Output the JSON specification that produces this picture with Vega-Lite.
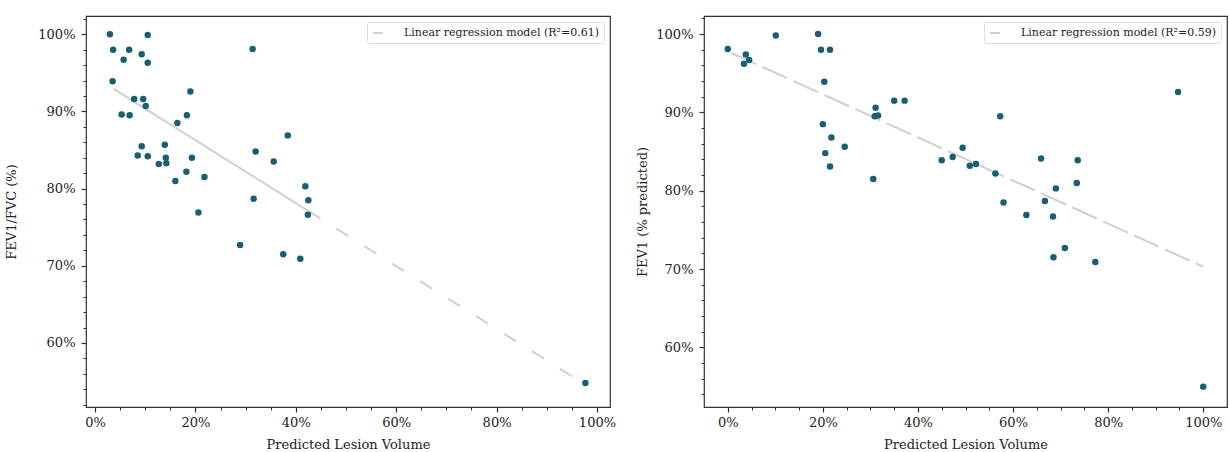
{
  "$schema": "https://vega.github.io/schema/vega-lite/v6.json",
  "padding": {"left": 5, "top": 15, "right": 0, "bottom": 0},
  "background": "white",
  "config": {
    "font": "DejaVu Serif",
    "view": {"stroke": "#333333", "strokeWidth": 1.2},
    "axis": {
      "labelFont": "DejaVu Serif", "labelFontSize": 13, "labelColor": "#222222",
      "titleFont": "DejaVu Serif", "titleFontSize": 13, "titleFontWeight": "normal", "titleColor": "#222222",
      "domain": false, "grid": false, "tickColor": "#333333", "tickWidth": 1.2
    },
    "legend": {
      "orient": "top-right", "offset": 6, "strokeColor": "#dddddd", "fillColor": "white",
      "padding": 5, "cornerRadius": 2, "labelFont": "DejaVu Serif", "labelFontSize": 11,
      "labelColor": "#222222", "labelLimit": 400, "symbolType": "stroke", "symbolSize": 100,
      "symbolStrokeWidth": 2, "labelOffset": 20, "title": null
    }
  },
  "datasets": {
    "fvc": [
      {"lesion": 2.96, "ratio": 100.0}, {"lesion": 10.5, "ratio": 99.9}, {"lesion": 3.6, "ratio": 98.0},
      {"lesion": 6.8, "ratio": 98.0}, {"lesion": 9.3, "ratio": 97.4}, {"lesion": 10.5, "ratio": 96.3},
      {"lesion": 5.7, "ratio": 96.7}, {"lesion": 31.4, "ratio": 98.1}, {"lesion": 3.5, "ratio": 93.9},
      {"lesion": 19.0, "ratio": 92.6}, {"lesion": 7.8, "ratio": 91.6}, {"lesion": 9.6, "ratio": 91.6},
      {"lesion": 10.1, "ratio": 90.7}, {"lesion": 5.3, "ratio": 89.6}, {"lesion": 6.9, "ratio": 89.5},
      {"lesion": 18.3, "ratio": 89.5}, {"lesion": 16.4, "ratio": 88.5}, {"lesion": 38.4, "ratio": 86.9},
      {"lesion": 9.3, "ratio": 85.5}, {"lesion": 13.9, "ratio": 85.7}, {"lesion": 32.0, "ratio": 84.8},
      {"lesion": 8.5, "ratio": 84.3}, {"lesion": 10.5, "ratio": 84.2}, {"lesion": 14.1, "ratio": 84.0},
      {"lesion": 19.3, "ratio": 84.0}, {"lesion": 35.6, "ratio": 83.5}, {"lesion": 12.7, "ratio": 83.2},
      {"lesion": 14.2, "ratio": 83.3}, {"lesion": 18.2, "ratio": 82.2}, {"lesion": 21.8, "ratio": 81.5},
      {"lesion": 16.0, "ratio": 81.0}, {"lesion": 41.9, "ratio": 80.3}, {"lesion": 31.6, "ratio": 78.7},
      {"lesion": 42.5, "ratio": 78.5}, {"lesion": 20.6, "ratio": 76.9}, {"lesion": 42.4, "ratio": 76.6},
      {"lesion": 28.9, "ratio": 72.7}, {"lesion": 37.5, "ratio": 71.5}, {"lesion": 40.9, "ratio": 70.9},
      {"lesion": 97.7, "ratio": 54.8}
    ],
    "fev1": [
      {"lesion": 0.0, "fev1": 98.1}, {"lesion": 10.1, "fev1": 99.8}, {"lesion": 19.0, "fev1": 100.0},
      {"lesion": 19.6, "fev1": 98.0}, {"lesion": 21.5, "fev1": 98.0}, {"lesion": 3.8, "fev1": 97.4},
      {"lesion": 4.5, "fev1": 96.7}, {"lesion": 3.4, "fev1": 96.2}, {"lesion": 20.3, "fev1": 93.9},
      {"lesion": 35.0, "fev1": 91.5}, {"lesion": 37.2, "fev1": 91.5}, {"lesion": 31.1, "fev1": 90.6},
      {"lesion": 30.9, "fev1": 89.5}, {"lesion": 31.6, "fev1": 89.6}, {"lesion": 20.0, "fev1": 88.5},
      {"lesion": 21.8, "fev1": 86.8}, {"lesion": 24.6, "fev1": 85.6}, {"lesion": 20.5, "fev1": 84.8},
      {"lesion": 21.5, "fev1": 83.1}, {"lesion": 30.6, "fev1": 81.5}, {"lesion": 45.0, "fev1": 83.9},
      {"lesion": 47.3, "fev1": 84.3}, {"lesion": 49.4, "fev1": 85.5}, {"lesion": 50.9, "fev1": 83.2},
      {"lesion": 52.2, "fev1": 83.4}, {"lesion": 57.3, "fev1": 89.5}, {"lesion": 56.3, "fev1": 82.2},
      {"lesion": 65.9, "fev1": 84.1}, {"lesion": 69.0, "fev1": 80.3}, {"lesion": 66.7, "fev1": 78.7},
      {"lesion": 58.0, "fev1": 78.5}, {"lesion": 62.8, "fev1": 76.9}, {"lesion": 68.4, "fev1": 76.7},
      {"lesion": 70.9, "fev1": 72.7}, {"lesion": 68.5, "fev1": 71.5}, {"lesion": 73.6, "fev1": 83.9},
      {"lesion": 73.4, "fev1": 81.0}, {"lesion": 94.7, "fev1": 92.6}, {"lesion": 77.3, "fev1": 70.9},
      {"lesion": 100.0, "fev1": 55.0}
    ],
    "fit": [
      {"panel": "fvc", "seg": "solid", "lesion": 3.7, "value": 92.93},
      {"panel": "fvc", "seg": "solid", "lesion": 42.5, "value": 77.1},
      {"panel": "fvc", "seg": "dashed", "lesion": 42.5, "value": 77.1},
      {"panel": "fvc", "seg": "dashed", "lesion": 97.7, "value": 54.58},
      {"panel": "fev1", "seg": "dashed", "lesion": 0.8, "value": 97.58},
      {"panel": "fev1", "seg": "dashed", "lesion": 100.0, "value": 70.3}
    ]
  },
  "spacing": 19,
  "resolve": {"scale": {"color": "independent"}, "legend": {"color": "independent"}},
  "hconcat": [
    {
      "width": 524,
      "height": 391,
      "resolve": {"axis": {"x": "independent", "y": "independent"}},
      "layer": [
        {
          "data": {"name": "fit"},
          "transform": [{"filter": "datum.panel === 'fvc' && datum.seg === 'solid'"}],
          "mark": {"type": "line", "strokeWidth": 2},
          "encoding": {
            "x": {"field": "lesion", "type": "quantitative", "scale": {"domain": [-1.8, 102.6], "nice": false, "zero": false},
                  "axis": {"orient": "bottom", "values": [5, 10, 15, 25, 30, 35, 45, 50, 55, 65, 70, 75, 85, 90, 95], "labels": false, "tickSize": 3, "tickWidth": 1, "title": null}},
            "y": {"field": "value", "type": "quantitative", "scale": {"domain": [51.7, 102.37], "nice": false, "zero": false},
                  "axis": {"orient": "left", "values": [52, 54, 56, 58, 62, 64, 66, 68, 72, 74, 76, 78, 82, 84, 86, 88, 92, 94, 96, 98, 102], "labels": false, "tickSize": 3, "tickWidth": 1, "title": null}},
            "color": {"datum": "Linear regression model (R²=0.61)", "type": "nominal", "scale": {"range": ["#cfcfcf"]}}
          }
        },
        {
          "data": {"name": "fit"},
          "transform": [{"filter": "datum.panel === 'fvc' && datum.seg === 'dashed'"}],
          "mark": {"type": "line", "strokeWidth": 2, "strokeDash": [14, 19]},
          "encoding": {
            "x": {"field": "lesion", "type": "quantitative", "axis": null},
            "y": {"field": "value", "type": "quantitative", "axis": null},
            "color": {"datum": "Linear regression model (R²=0.61)", "type": "nominal"}
          }
        },
        {
          "data": {"name": "fvc"},
          "mark": {"type": "point", "filled": true, "size": 42, "color": "#1a5e72", "opacity": 1},
          "encoding": {
            "x": {"field": "lesion", "type": "quantitative",
                  "axis": {"orient": "bottom", "values": [0, 20, 40, 60, 80, 100], "labelExpr": "datum.value + '%'", "tickSize": 5, "labelPadding": 4, "titlePadding": 9, "title": "Predicted Lesion Volume"}},
            "y": {"field": "ratio", "type": "quantitative",
                  "axis": {"orient": "left", "values": [60, 70, 80, 90, 100], "labelExpr": "datum.value + '%'", "tickSize": 5, "labelPadding": 6, "titlePadding": 19, "title": "FEV1/FVC (%)"}}
          }
        }
      ]
    },
    {
      "width": 523,
      "height": 391,
      "resolve": {"axis": {"x": "independent", "y": "independent"}},
      "layer": [
        {
          "data": {"name": "fit"},
          "transform": [{"filter": "datum.panel === 'fev1'"}],
          "mark": {"type": "line", "strokeWidth": 2, "strokeDash": [27, 7]},
          "encoding": {
            "x": {"field": "lesion", "type": "quantitative", "scale": {"domain": [-5, 105], "nice": false, "zero": false},
                  "axis": {"orient": "bottom", "values": [5, 10, 15, 25, 30, 35, 45, 50, 55, 65, 70, 75, 85, 90, 95], "labels": false, "tickSize": 3, "tickWidth": 1, "title": null}},
            "y": {"field": "value", "type": "quantitative", "scale": {"domain": [52.4, 102.3], "nice": false, "zero": false},
                  "axis": {"orient": "left", "values": [54, 56, 58, 62, 64, 66, 68, 72, 74, 76, 78, 82, 84, 86, 88, 92, 94, 96, 98, 102], "labels": false, "tickSize": 3, "tickWidth": 1, "title": null}},
            "color": {"datum": "Linear regression model (R²=0.59)", "type": "nominal", "scale": {"range": ["#cfcfcf"]}}
          }
        },
        {
          "data": {"name": "fev1"},
          "mark": {"type": "point", "filled": true, "size": 42, "color": "#1a5e72", "opacity": 1},
          "encoding": {
            "x": {"field": "lesion", "type": "quantitative",
                  "axis": {"orient": "bottom", "values": [0, 20, 40, 60, 80, 100], "labelExpr": "datum.value + '%'", "tickSize": 5, "labelPadding": 4, "titlePadding": 9, "title": "Predicted Lesion Volume"}},
            "y": {"field": "fev1", "type": "quantitative",
                  "axis": {"orient": "left", "values": [60, 70, 80, 90, 100], "labelExpr": "datum.value + '%'", "tickSize": 5, "labelPadding": 6, "titlePadding": 6, "title": "FEV1 (% predicted)"}}
          }
        }
      ]
    }
  ]
}
